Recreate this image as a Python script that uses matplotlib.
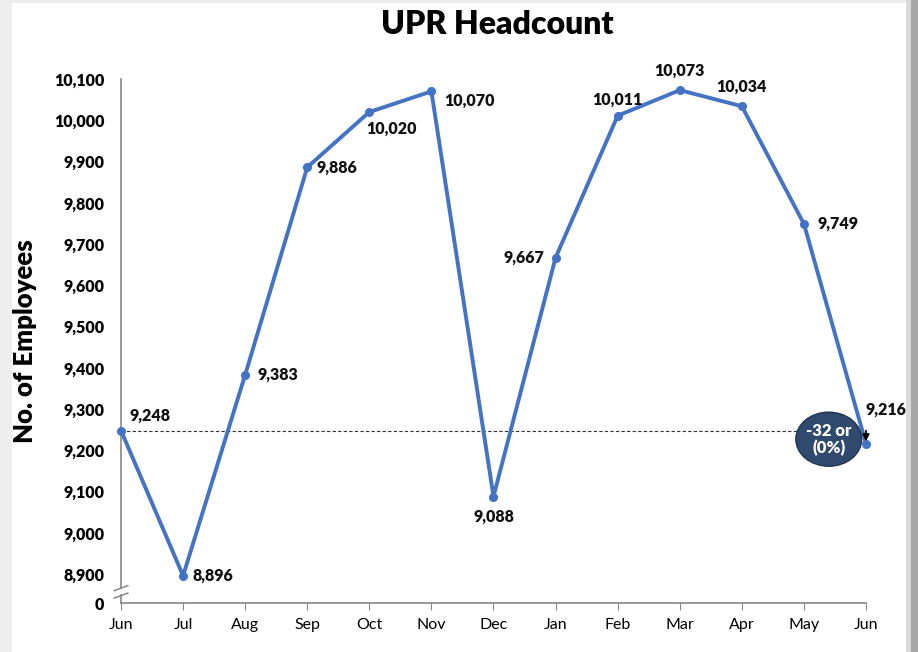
import matplotlib.pyplot as plt
from matplotlib.patches import Rectangle, Ellipse

# data
months = ["Jun", "Jul", "Aug", "Sep", "Oct", "Nov", "Dec",
          "Jan", "Feb", "Mar", "Apr", "May", "Jun"]
headcount = [9248, 8896, 9383, 9886, 10020, 10070, 9088,
             9667, 10011, 10073, 10034, 9749, 9216]
yticks = [8830, 8900, 9000, 9100, 9200, 9300, 9400, 9500,
          9600, 9700, 9800, 9900, 10000, 10100]
ytick_labels = ["0"] + [f"{v:,}" for v in yticks[1:]]
change_text = "-32 or\n(0%)"

# label offsets in points (dx, dy, ha, va)
label_pos = [
    (6, 5, "left", "bottom"),
    (7, 0, "left", "center"),
    (9, 0, "left", "center"),
    (7, 0, "left", "center"),
    (-2, -6, "left", "top"),
    (9, -7, "left", "center"),
    (0, -9, "center", "top"),
    (-8, 0, "right", "center"),
    (0, 6, "center", "bottom"),
    (0, 8, "center", "bottom"),
    (0, 8, "center", "bottom"),
    (10, 0, "left", "center"),
    (0, 19, "left", "bottom"),
]

plt.rcParams["font.family"] = ["Lato", "DejaVu Sans"]

W, H = 918, 652
fig = plt.figure(figsize=(W / 100, H / 100), dpi=100, facecolor="white")

# frame / shadow around chart area
fig.patches.append(Rectangle((0, 0), 12 / W, 1, transform=fig.transFigure,
                             facecolor="#eeeeee", edgecolor="none", zorder=0))
fig.patches.append(Rectangle((0, 1 - 3 / H), 1, 3 / H, transform=fig.transFigure,
                             facecolor="#ececec", edgecolor="none", zorder=0))
fig.patches.append(Rectangle((906 / W, 0), 6 / W, 1, transform=fig.transFigure,
                             facecolor="#d9d9d9", edgecolor="none", zorder=0))
fig.patches.append(Rectangle((911 / W, 0), 7 / W, 1, transform=fig.transFigure,
                             facecolor="#a6a6a6", edgecolor="none", zorder=0))

ax = fig.add_axes([121 / W, 1 - 603 / H, 745 / W, 524 / H])
ax.set_facecolor("none")
x = list(range(len(months)))

ax.plot(x, headcount, color="#4472C4", lw=2.8, marker="o", ms=5.5, zorder=3,
        solid_joinstyle="miter", clip_on=False)

for i, v in enumerate(headcount):
    dx, dy, ha, va = label_pos[i]
    ax.annotate(f"{v:,}", (i, v), xytext=(dx, dy), textcoords="offset points",
                ha=ha, va=va, fontsize=11.5, fontweight="heavy", color="#111111")

# reference line at starting headcount
ax.plot([0, 12], [headcount[0], headcount[0]], ls=(0, (3, 2)), lw=0.8,
        color="#333333", zorder=2, clip_on=False)
ax.annotate("", xy=(12, headcount[-1] + 6), xytext=(12, headcount[0]),
            arrowprops=dict(arrowstyle="-|>", color="black", lw=1.2,
                            mutation_scale=10, shrinkA=0, shrinkB=0),
            zorder=4, annotation_clip=False)

ax.add_patch(Ellipse((11.40, 9227), 1.06, 131, facecolor="#2F4A6D",
                     edgecolor="#1f3350", lw=1, zorder=5))
ax.text(11.40, 9227, change_text, ha="center", va="center", color="white",
        fontsize=12, fontweight="heavy", zorder=6, linespacing=1.05)

ax.set_xlim(0, 12)
ax.set_ylim(8830, 10100)
ax.set_xticks(x)
ax.set_xticklabels(months, fontsize=11.5)
ax.set_yticks(yticks)
ax.set_yticklabels(ytick_labels, fontsize=11.5, fontweight="heavy")
ax.tick_params(axis="y", length=0, pad=12)
ax.tick_params(axis="x", length=5, color="#888888", pad=6)

for s in ["top", "right"]:
    ax.spines[s].set_visible(False)
for s in ["left", "bottom"]:
    ax.spines[s].set_color("#888888")
    ax.spines[s].set_linewidth(1.2)

# axis break marks
bk = 8857
for off in (-9, 9):
    ax.plot([-0.11, 0.11], [bk + off - 6, bk + off + 6], color="#888888",
            lw=1.1, clip_on=False, zorder=5)
ax.add_patch(Rectangle((-0.12, bk - 6), 0.24, 12, facecolor="white",
                       edgecolor="none", clip_on=False, zorder=4))

ax.set_ylabel("No. of Employees", fontsize=18.5, fontweight="heavy", labelpad=12)
fig.text(497 / W, 1 - 25 / H, "UPR Headcount", ha="center", va="center",
         fontsize=23, fontweight="heavy")

fig.savefig("out.png", dpi=100, facecolor=fig.get_facecolor())
